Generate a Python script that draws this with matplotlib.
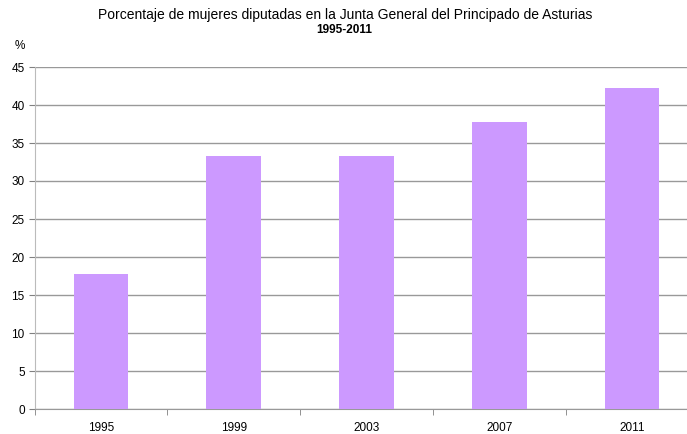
import matplotlib
matplotlib.use("Agg")
import matplotlib.pyplot as plt
import numpy as np

years = ["1995", "1999", "2003", "2007", "2011"]
values = [17.8, 33.3, 33.3, 37.8, 42.2]
yticks = [0, 5, 10, 15, 20, 25, 30, 35, 40, 45]

plt.rcParams['font.family'] = ['Liberation Sans', 'DejaVu Sans']

fig = plt.figure(figsize=(6.87, 4.34), dpi=100)
ax = fig.add_axes([34.5/687, 25/434, 664/687, 342/434])

x = np.arange(len(years))
ax.bar(x, values, width=0.41, color='#CC99FF', zorder=3)
ax.set_xlim(-0.5, len(years) - 0.5)
ax.set_ylim(0, 45)
ax.set_yticks(yticks)
ax.set_yticklabels([str(v) for v in yticks], fontsize=8.5)
ax.set_xticks(x)
ax.set_xticklabels(years, fontsize=8.5)
ax.set_xticks(np.arange(len(years) + 1) - 0.5, minor=True)
ax.tick_params(axis='x', which='major', length=0, pad=9.3)
ax.tick_params(axis='x', which='minor', length=4, color='#808080')
ax.tick_params(axis='y', length=4, color='#808080', pad=3)

ax.yaxis.grid(True, color='#999999', linewidth=1.0, zorder=0)
for s in ['top', 'right']:
    ax.spines[s].set_visible(False)
ax.spines['left'].set_color('#BBBBBB')
ax.spines['bottom'].set_color('#999999')

fig.text(345/687, 1 - 15/434, "Porcentaje de mujeres diputadas en la Junta General del Principado de Asturias",
         ha='center', va='center', fontsize=10)
fig.text(344/687, 1 - 30/434, "1995-2011", ha='center', va='center', fontsize=8.5, fontweight='bold')
fig.text(20/687, 1 - 46/434, "%", ha='center', va='center', fontsize=8.5)

fig.savefig("out.png", dpi=100)
